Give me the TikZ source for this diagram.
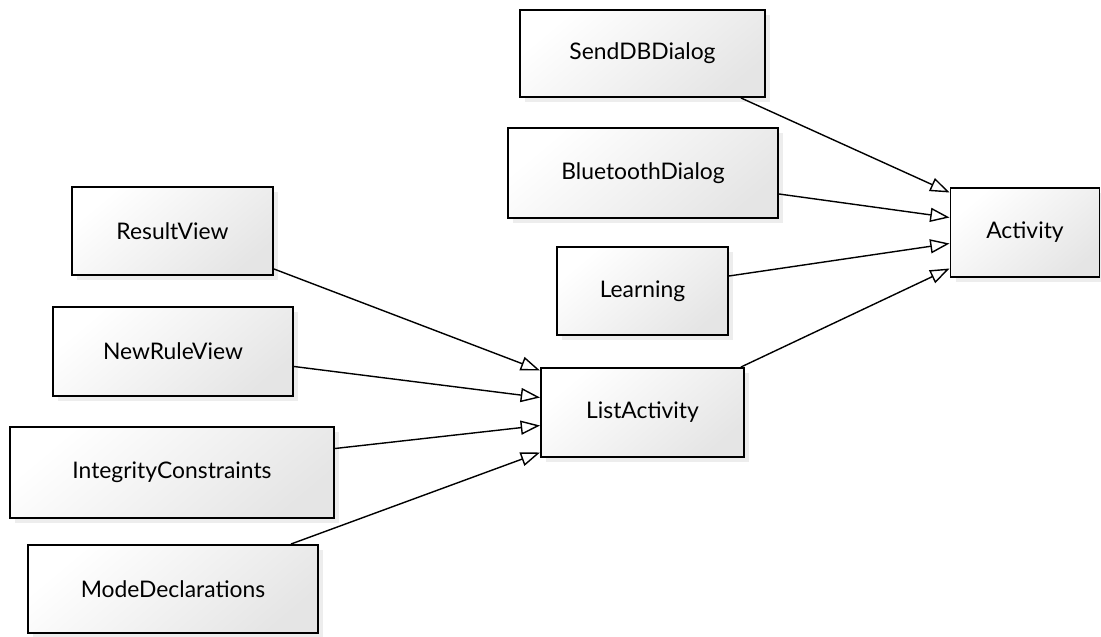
\documentclass[tikz,border=0pt]{standalone}
\usepackage{fontspec}
\setmainfont{Lato}
\usetikzlibrary{arrows.meta,shadows}

\tikzset{
  cls/.style={draw=black, line width=1.1pt, inner sep=0pt,
    shading=axis, top color=white, bottom color=gray!20, shading angle=40,
    drop shadow={opacity=0.14, shadow xshift=3pt, shadow yshift=-3pt},
    font=\fontsize{13}{15}\selectfont},
  inh/.style={line width=0.8pt, -{Triangle[open, length=11pt, width=8pt]}}
}

\begin{document}
\begin{tikzpicture}
  \useasboundingbox (0,0) rectangle (22.02,-12.74);

  \node[cls, minimum width=4.9cm, minimum height=1.74cm] (senddb) at (12.85,-1.07) {SendDBDialog};
  \node[cls, minimum width=5.4cm, minimum height=1.8cm] (bluetooth) at (12.86,-3.46) {BluetoothDialog};
  \node[cls, minimum width=3.42cm, minimum height=1.76cm] (learning) at (12.85,-5.82) {Learning};
  \node[cls, minimum width=4.06cm, minimum height=1.78cm] (listact) at (12.85,-8.25) {ListActivity};
  \node[cls, minimum width=2.98cm, minimum height=1.78cm] (activity) at (20.5,-4.65) {Activity};

  \node[cls, minimum width=4.02cm, minimum height=1.76cm] (resultview) at (3.45,-4.62) {ResultView};
  \node[cls, minimum width=4.8cm, minimum height=1.78cm] (newrule) at (3.46,-7.03) {NewRuleView};
  \node[cls, minimum width=6.48cm, minimum height=1.82cm] (integrity) at (3.44,-9.45) {IntegrityConstraints};
  \node[cls, minimum width=5.8cm, minimum height=1.76cm] (modedecl) at (3.46,-11.78) {ModeDeclarations};

  \draw[inh] ([xshift=-0.5cm]senddb.south east) -- ([yshift=0.8cm]activity.west);
  \draw[inh] ([yshift=-0.42cm]bluetooth.east) -- ([yshift=0.3cm]activity.west);
  \draw[inh] ([yshift=0.3cm]learning.east) -- ([yshift=-0.22cm]activity.west);
  \draw[inh] ([xshift=-0.08cm]listact.north east) -- ([yshift=-0.72cm]activity.west);

  \draw[inh] ([yshift=-0.76cm]resultview.east) -- ([yshift=0.84cm]listact.west);
  \draw[inh] ([yshift=-0.3cm]newrule.east) -- ([yshift=0.3cm]listact.west);
  \draw[inh] ([yshift=0.48cm]integrity.east) -- ([yshift=-0.26cm]listact.west);
  \draw[inh] ([xshift=-0.56cm]modedecl.north east) -- ([yshift=-0.8cm]listact.west);
\end{tikzpicture}
\end{document}
